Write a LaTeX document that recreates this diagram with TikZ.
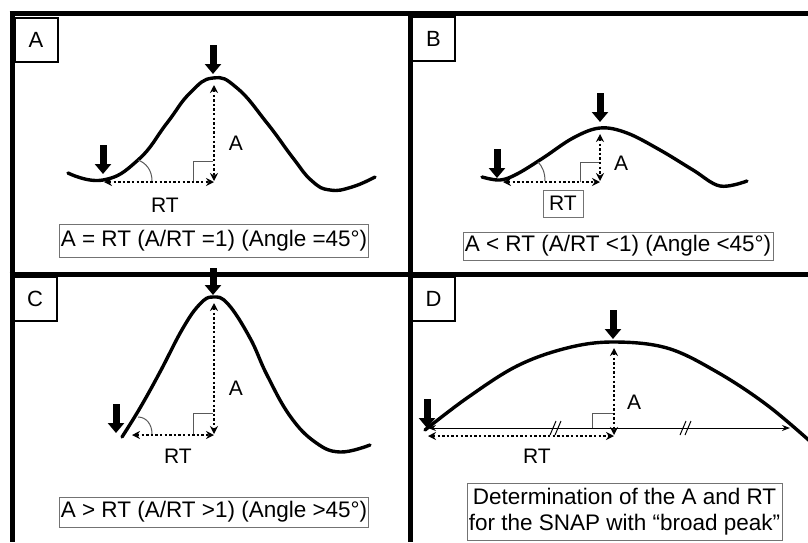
\documentclass[tikz,border=0pt]{standalone}
\usepackage{fontspec}
\setmainfont{Liberation Sans}
\usetikzlibrary{arrows.meta,calc}
\begin{document}
\begin{tikzpicture}[x=1pt,y=-1pt,
  frame/.style={line width=5pt},
  curve/.style={line width=3.4pt, line cap=round, line join=round},
  bigarrow/.style={line width=7pt, -{Triangle[width=16pt,length=10pt]}},
  dotarrow/.style={line width=2.6pt, dash pattern=on 2.4pt off 2.2pt, {Stealth[length=8pt,width=8pt]}-{Stealth[length=8pt,width=8pt]}},
  thinmark/.style={line width=1pt, draw=black!65},
  letterbox/.style={draw, line width=2pt, minimum width=43pt, minimum height=44pt, font=\fontsize{22}{24}\selectfont, inner sep=0pt},
  infobox/.style={draw=black!55, line width=1pt, inner sep=1.5pt, font=\fontsize{22.5}{26}\selectfont, align=center},
  lbl/.style={font=\fontsize{21}{23}\selectfont, inner sep=0pt},
]
\useasboundingbox (0,0) rectangle (808,542);

% frame
\draw[frame] (9.5,13.5) -- (808,13.5);
\draw[frame] (12,11) -- (12,542);
\draw[frame] (410.5,13.5) -- (410.5,542);
\draw[frame] (9.5,274) -- (808,274);

% letter boxes
\node[letterbox] (la) at (36,39.5) {A};
\node[letterbox] (lb) at (433.5,38.5) {B};
\node[letterbox] (lc) at (35,298.5) {C};
\node[letterbox] (ld) at (433.5,298.5) {D};

% ---------------- Panel A
\coordinate (aO) at (104,182);
\coordinate (aK) at (214,182);
\coordinate (aP) at (214,85);
\draw[curve] plot[smooth,tension=0.8] coordinates {(68,173) (103,180) (138,160) (167,123) (190,93) (213,78) (237,88) (267,123) (293,158) (312,181) (330,190) (352,187) (375,177)};
\draw[thinmark] (152,181) .. controls (152,170) and (146,163) .. (138,160);
\draw[thinmark] (193,182) -- (193,161) -- (213,161);
\draw[dotarrow] (aP) -- ($(aK)+(0,-1)$);
\draw[dotarrow] (aO) -- (aK);
\coordinate (aT1) at (213,45); \coordinate (aH1) at (213,74);
\coordinate (aT2) at (103,145); \coordinate (aH2) at (103,174);
\draw[bigarrow] (aT1) -- (aH1);
\draw[bigarrow] (aT2) -- (aH2);
\node[lbl] (aA) at (236,143) {A};
\node[lbl] (aRT) at (165,205) {RT};
\node[infobox, minimum width=308pt, minimum height=33pt] (aBox) at (214,240.5) {A = RT (A/RT =1) (Angle =45°)};

% ---------------- Panel B
\coordinate (bO) at (503,182);
\coordinate (bK) at (600,182);
\coordinate (bP) at (600,134);
\draw[curve] plot[smooth,tension=0.6] coordinates {(482,177) (500,180) (517,174) (543,158) (573,138) (600,128) (627,133) (660,150) (693,170) (720,186) (747,181)};
\draw[thinmark] (545,181) .. controls (545,172) and (542,166) .. (538,162);
\draw[thinmark] (580,182) -- (580,162) -- (600,162);
\draw[dotarrow] (bP) -- ($(bK)+(0,-1)$);
\draw[dotarrow] (bO) -- (bK);
\coordinate (bT1) at (600,93); \coordinate (bH1) at (600,122);
\coordinate (bT2) at (497,149); \coordinate (bH2) at (497,178);
\draw[bigarrow] (bT1) -- (bH1);
\draw[bigarrow] (bT2) -- (bH2);
\node[lbl] (bA) at (621,163) {A};
\node[lbl, draw=black!55, line width=1pt, minimum width=40pt, minimum height=27pt] (bRT) at (563,203.5) {RT};
\node[infobox, minimum width=310pt, minimum height=28pt] (bBox) at (618,246) {A < RT (A/RT <1) (Angle <45°)};

% ---------------- Panel C
\coordinate (cO) at (132,435);
\coordinate (cK) at (214,435);
\coordinate (cP) at (214,303);
\draw[curve] plot[smooth,tension=0.7] coordinates {(122,437) (140,408) (160,372) (183,328) (200,304) (213,297) (228,304) (250,338) (267,375) (290,416) (315,442) (340,452) (370,445)};
\draw[thinmark] (152,434) .. controls (152,424) and (146,417) .. (138,417);
\draw[thinmark] (193,435) -- (193,413) -- (213,413);
\draw[dotarrow] (cP) -- ($(cK)+(0,-1)$);
\draw[dotarrow] (cO) -- (cK);
\coordinate (cT1) at (213,268); \coordinate (cH1) at (213,295);
\coordinate (cT2) at (116,404); \coordinate (cH2) at (116,433);
\draw[bigarrow] (cT1) -- (cH1);
\draw[bigarrow] (cT2) -- (cH2);
\node[lbl] (cA) at (236,388) {A};
\node[lbl] (cRT) at (178,456) {RT};
\node[infobox, minimum width=308pt, minimum height=30pt] (cBox) at (214,512) {A > RT (A/RT >1) (Angle >45°)};

% ---------------- Panel D
\coordinate (dO) at (428,436);
\coordinate (dK) at (614,436);
\coordinate (dP) at (614,348);
\coordinate (dL) at (428,428);
\coordinate (dR) at (790,428);
\draw[curve] plot[smooth,tension=0.6] coordinates {(425,430) (467,398) (517,366) (567,348) (613,342) (667,348) (717,372) (767,405) (812,443)};
\draw[line width=1pt, {Stealth[length=8pt,width=6pt]}-{Stealth[length=8pt,width=6pt]}] (dL) -- (dR);
\draw[line width=1pt] (550,435) -- (556,421) (555,435) -- (561,421);
\draw[line width=1pt] (680,435) -- (686,421) (685,435) -- (691,421);
\draw[thinmark] (592,428) -- (592,413) -- (613,413);
\draw[dotarrow] (dP) -- ($(dK)+(0,-1)$);
\draw[dotarrow] (dO) -- (dK);
\coordinate (dT1) at (613,310); \coordinate (dH1) at (613,339);
\coordinate (dT2) at (427,399); \coordinate (dH2) at (427,428);
\draw[bigarrow] (dT1) -- (dH1);
\draw[bigarrow] (dT2) -- (dH2);
\node[lbl] (dA) at (634,402) {A};
\node[lbl] (dRT) at (537,456) {RT};
\node[infobox, minimum width=315pt, minimum height=57pt] (dBox) at (624.5,511.5) {Determination of the A and RT\\for the SNAP with “broad peak”};
\end{tikzpicture}
\end{document}
